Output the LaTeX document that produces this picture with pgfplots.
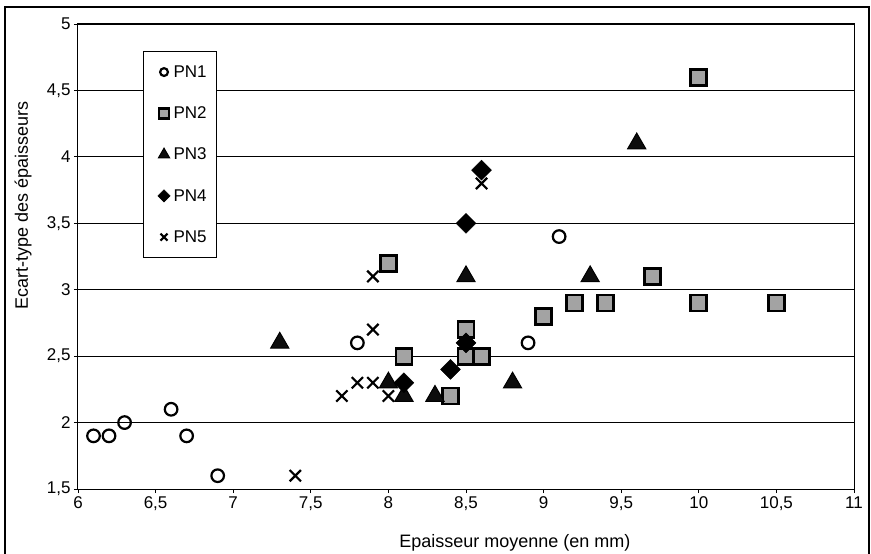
\documentclass[border=0pt]{standalone}
\usepackage{fontspec}
\setmainfont{Liberation Sans}
\usepackage{pgfplots}
\pgfplotsset{compat=1.18}
\definecolor{sqfill}{gray}{0.64}
\begin{document}
\begin{tikzpicture}
\path[use as bounding box] (-78bp,-65bp) rectangle (793bp,489bp);
\draw[line width=1.6bp] (-73bp,-70bp) -- (-73bp,482bp) -- (791bp,482bp) -- (791bp,-70bp);
\begin{axis}[
  at={(0,0)}, anchor=south west,
  scale only axis, width=776bp, height=465bp,
  xmin=6, xmax=11, ymin=1.5, ymax=5,
  xtick={6,6.5,...,11}, ytick={1.5,2,...,5},
  /pgf/number format/use comma,
  /pgf/number format/assume math mode=true,
  tick label style={font=\fontsize{17bp}{19bp}\selectfont, black},
  tick align=outside, tick pos=left,
  major tick length=4bp,
  every tick/.style={black, line width=0.8bp},
  axis line style={line width=1bp},
  ymajorgrids, grid style={black, line width=0.8bp},
  xlabel={Epaisseur moyenne (en mm)},
  ylabel={Ecart-type des épaisseurs},
  every axis x label/.style={at={(axis description cs:0.563,0)}, yshift=-58bp, anchor=base, font=\fontsize{18bp}{20bp}\selectfont},
  every axis y label/.style={at={(axis description cs:0,0.609)}, xshift=-50bp, rotate=90, anchor=base, font=\fontsize{18bp}{20bp}\selectfont},
  legend style={at={(axis description cs:0.0838,0.942)}, anchor=north west,
    draw=black, line width=1bp, fill=white,
    font=\fontsize{17bp}{19bp}\selectfont,
    row sep=24bp, inner ysep=12bp, inner xsep=8bp},
  legend cell align=left,
  legend image code/.code={\path (-12bp,0bp) (7bp,0bp); \draw[#1, every mark/.append style={scale=0.62}] plot coordinates {(0bp,0bp)};},
]
\addplot[only marks, mark=o, mark size=6.3bp, mark options={line width=2.2bp, draw=black, fill=white}] coordinates {
(6.1,1.9) (6.2,1.9) (6.3,2.0) (6.6,2.1) (6.7,1.9) (6.9,1.6) (7.8,2.6) (8.9,2.6) (9.1,3.4)};
\addlegendentry{PN1}
\addplot[only marks, mark=square*, mark size=8bp, mark options={line width=2.8bp, draw=black, fill=sqfill}] coordinates {
(8.0,3.2) (8.1,2.5) (8.4,2.2) (8.5,2.7) (8.5,2.5) (8.6,2.5) (9.0,2.8) (9.2,2.9) (9.4,2.9) (9.7,3.1) (10.0,2.9) (10.0,4.6) (10.5,2.9)};
\addlegendentry{PN2}
\addplot[only marks, mark=triangle*, mark size=10.5bp, mark options={line width=1bp, draw=black, fill=black!95}] coordinates {
(7.3,2.6) (8.0,2.3) (8.1,2.2) (8.3,2.2) (8.5,3.1) (8.8,2.3) (9.3,3.1) (9.6,4.1)};
\addlegendentry{PN3}
\addplot[only marks, mark=square*, mark size=7bp, mark options={rotate=45, line width=0.5bp, draw=black, fill=black}] coordinates {
(8.1,2.3) (8.4,2.4) (8.5,2.6) (8.5,3.5) (8.6,3.9)};
\addlegendentry{PN4}
\addplot[only marks, mark=x, mark size=8bp, mark options={line width=2.2bp, draw=black}] coordinates {
(7.4,1.6) (7.7,2.2) (7.8,2.3) (7.9,2.3) (7.9,2.7) (7.9,3.1) (8.0,2.2) (8.6,3.8)};
\addlegendentry{PN5}
\end{axis}
\end{tikzpicture}
\end{document}
